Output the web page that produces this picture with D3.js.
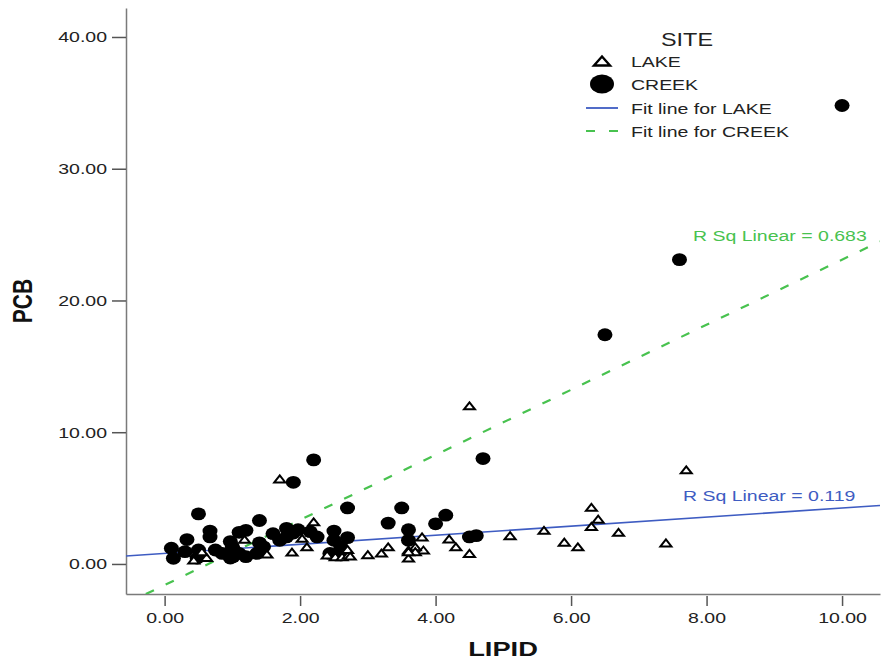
<!DOCTYPE html>
<html lang="en">
<head>
<meta charset="UTF-8">
<title>PCB vs LIPID</title>
<style>
  body { margin: 0; background: #fff; }
  text { font-family: "Liberation Sans", Arial, sans-serif; }
</style>
</head>
<body>
<div id="chart"></div>
<script src="https://d3js.org/d3.v7.min.js"></script>
<script>

// data
const creekLipid = [10.0, 7.6, 6.5, 4.7, 2.2, 1.9, 2.7, 3.5, 3.3, 4.15, 4.0, 3.6, 2.5, 2.7, 4.5, 4.6,
    2.6, 2.6, 3.6, 0.5, 1.4, 0.67, 0.67, 0.33, 0.1, 0.13, 0.3, 0.5, 0.48, 0.75, 0.85, 0.97,
    1.02, 0.97, 1.1, 1.2, 1.0, 1.2, 1.4, 1.6, 1.8, 1.9, 1.97, 2.15, 2.25, 1.7, 1.8, 1.46,
    1.36, 2.5, 2.44, 1.01, 1.1];
const creekPcb = [34.8, 23.1, 17.4, 8.0, 7.9, 6.2, 4.25, 4.25, 3.1, 3.7, 3.05, 2.6, 2.5, 2.0, 2.05, 2.15,
    1.3, 0.7, 1.8, 3.8, 3.3, 2.5, 2.05, 1.85, 1.2, 0.43, 0.93, 1.06, 0.45, 1.06, 0.8, 1.7,
    1.06, 0.45, 2.4, 2.55, 1.3, 0.55, 1.6, 2.3, 2.7, 2.35, 2.6, 2.45, 2.05, 1.8, 2.05, 1.3,
    0.8, 1.8, 0.8, 0.55, 0.8];

const lakeLipid = [4.5, 7.7, 1.7, 6.3, 6.4, 6.3, 6.7, 5.6, 5.1, 5.9, 6.1, 7.4, 4.2, 4.3, 4.5, 3.8,
    3.82, 3.7, 3.6, 3.6, 3.7, 3.3, 3.2, 3.0, 2.2, 2.1, 2.03, 2.4, 2.52, 2.62, 2.71, 2.7,
    1.88, 1.51, 1.18, 0.62, 0.43, 0.55, 2.74, 3.6];
const lakePcb = [12.0, 7.15, 6.45, 4.3, 3.4, 2.85, 2.4, 2.55, 2.15, 1.65, 1.3, 1.6, 1.9, 1.3, 0.8, 2.05,
    1.06, 1.3, 1.06, 0.45, 0.93, 1.3, 0.83, 0.7, 3.2, 1.3, 1.95, 0.68, 0.55, 0.55, 0.68, 1.1,
    0.9, 0.75, 1.87, 0.5, 0.3, 0.93, 0.6, 0.93];

// fit lines: [intercept, slope]
const fitLake = [0.8, 0.345];
const fitCreek = [-1.6, 2.47];
const rsqLabels = ["R Sq Linear = 0.119", "R Sq Linear = 0.683"];

const xTicks = [0, 2, 4, 6, 8, 10];
const yTicks = [0, 10, 20, 30, 40];

const legendLabels = ["LAKE", "CREEK", "Fit line for LAKE", "Fit line for CREEK"];

// page setup
const W = 881, H = 659;
const plotL = 126, plotR = 880, plotT = 8, plotB = 594;
const stretch = 1.3;   // the original picture is widened
const blue = "#3e5cc2", green = "#48c24f";

const svg = d3.select("#chart").append("svg")
    .attr("width", W).attr("height", H);

const x = d3.scaleLinear().domain([-0.57, 10.56]).range([plotL, plotR]);
const y = d3.scaleLinear().domain([-2.28, 42.2]).range([plotB, plotT]);

// axes
const yAxis = svg.append("g")
    .attr("transform", `translate(${plotL},0)`)
    .call(d3.axisLeft(y).tickValues(yTicks).tickFormat(d3.format(".2f"))
        .tickSize(14).tickPadding(5).tickSizeOuter(0));

const xAxis = svg.append("g")
    .attr("transform", `translate(0,${plotB})`)
    .call(d3.axisBottom(x).tickValues(xTicks).tickFormat(d3.format(".2f"))
        .tickSize(12).tickPadding(6).tickSizeOuter(0));

[yAxis, xAxis].forEach(g => {
    g.select(".domain").attr("stroke", "#7a7a7a").attr("stroke-width", 1.5);
    g.selectAll(".tick line").attr("stroke", "#555").attr("stroke-width", 1.5);
    g.selectAll(".tick text")
        .attr("font-family", "Liberation Sans, Arial, sans-serif")
        .attr("font-size", 15).attr("fill", "#222");
});
// widen the tick labels like the source
yAxis.selectAll(".tick text").each(function () {
    const t = d3.select(this);
    const x0 = +t.attr("x");
    t.attr("x", x0 / stretch).attr("transform", `scale(${stretch},1)`);
});
xAxis.selectAll(".tick text").attr("transform", `scale(${stretch},1)`);
xAxis.selectAll(".tick line").attr("y1", 2);

// axis titles
svg.append("text")
    .attr("transform", `translate(22,301) scale(${stretch},1) rotate(-90)`)
    .attr("text-anchor", "middle").attr("dy", "0.36em")
    .attr("font-size", 21).attr("font-weight", "bold").attr("fill", "#111")
    .text("PCB");

svg.append("text")
    .attr("transform", `translate(503,656) scale(${stretch},1)`)
    .attr("text-anchor", "middle")
    .attr("font-size", 21).attr("font-weight", "bold").attr("fill", "#111")
    .text("LIPID");

// fit lines, clipped to the plot area
svg.append("clipPath").attr("id", "plotclip")
    .append("rect").attr("x", plotL).attr("y", plotT)
    .attr("width", plotR - plotL).attr("height", plotB - plotT);

const xd = x.domain();
const fitG = svg.append("g").attr("clip-path", "url(#plotclip)");

fitG.append("line")
    .attr("x1", x(xd[0])).attr("y1", y(fitCreek[0] + fitCreek[1] * xd[0]))
    .attr("x2", x(xd[1])).attr("y2", y(fitCreek[0] + fitCreek[1] * xd[1]))
    .attr("stroke", green).attr("stroke-width", 2.2)
    .attr("stroke-dasharray", "9,13");

fitG.append("line")
    .attr("x1", x(xd[0])).attr("y1", y(fitLake[0] + fitLake[1] * xd[0]))
    .attr("x2", x(xd[1])).attr("y2", y(fitLake[0] + fitLake[1] * xd[1]))
    .attr("stroke", blue).attr("stroke-width", 1.6);

// points: creek circles first, lake triangles on top
const creek = creekLipid.map((d, i) => ({ lipid: d, pcb: creekPcb[i] }));
const lake = lakeLipid.map((d, i) => ({ lipid: d, pcb: lakePcb[i] }));

svg.append("g").selectAll("ellipse")
    .data(creek)
    .join("ellipse")
    .attr("cx", d => x(d.lipid))
    .attr("cy", d => y(d.pcb))
    .attr("rx", 7.5).attr("ry", 6.4)
    .attr("fill", "#000");

const tri = "M-5.5,3.5L0,-3.5L5.5,3.5Z";
svg.append("g").selectAll("path")
    .data(lake)
    .join("path")
    .attr("d", tri)
    .attr("transform", d => `translate(${x(d.lipid)},${y(d.pcb)})`)
    .attr("fill", "#fff").attr("stroke", "#000").attr("stroke-width", 2);

// r squared labels
svg.append("text")
    .attr("transform", `translate(683,501) scale(${stretch},1)`)
    .attr("font-size", 15).attr("fill", blue)
    .text(rsqLabels[0]);

svg.append("text")
    .attr("transform", `translate(693,241) scale(${stretch},1)`)
    .attr("font-size", 15).attr("fill", green)
    .text(rsqLabels[1]);

// legend
const lg = svg.append("g");
lg.append("text")
    .attr("transform", `translate(687,46) scale(${stretch},1)`)
    .attr("text-anchor", "middle")
    .attr("font-size", 18).attr("fill", "#222")
    .text("SITE");

const rowY = [61, 84, 108, 131];
legendLabels.forEach((lab, i) => {
    lg.append("text")
        .attr("transform", `translate(631,${rowY[i] + 5.5}) scale(${stretch},1)`)
        .attr("font-size", 15).attr("fill", "#222")
        .text(lab);
});
lg.append("path")
    .attr("d", "M-8,4.5L0,-4.5L8,4.5Z")
    .attr("transform", `translate(602,${rowY[0]})`)
    .attr("fill", "#fff").attr("stroke", "#000").attr("stroke-width", 2.4);
lg.append("ellipse")
    .attr("cx", 602).attr("cy", rowY[1])
    .attr("rx", 12).attr("ry", 9.5).attr("fill", "#000");
lg.append("line")
    .attr("x1", 586).attr("x2", 618).attr("y1", rowY[2]).attr("y2", rowY[2])
    .attr("stroke", blue).attr("stroke-width", 1.8);
lg.append("line")
    .attr("x1", 586).attr("x2", 618).attr("y1", rowY[3]).attr("y2", rowY[3])
    .attr("stroke", green).attr("stroke-width", 2.2)
    .attr("stroke-dasharray", "9,14");

</script>
</body>
</html>
